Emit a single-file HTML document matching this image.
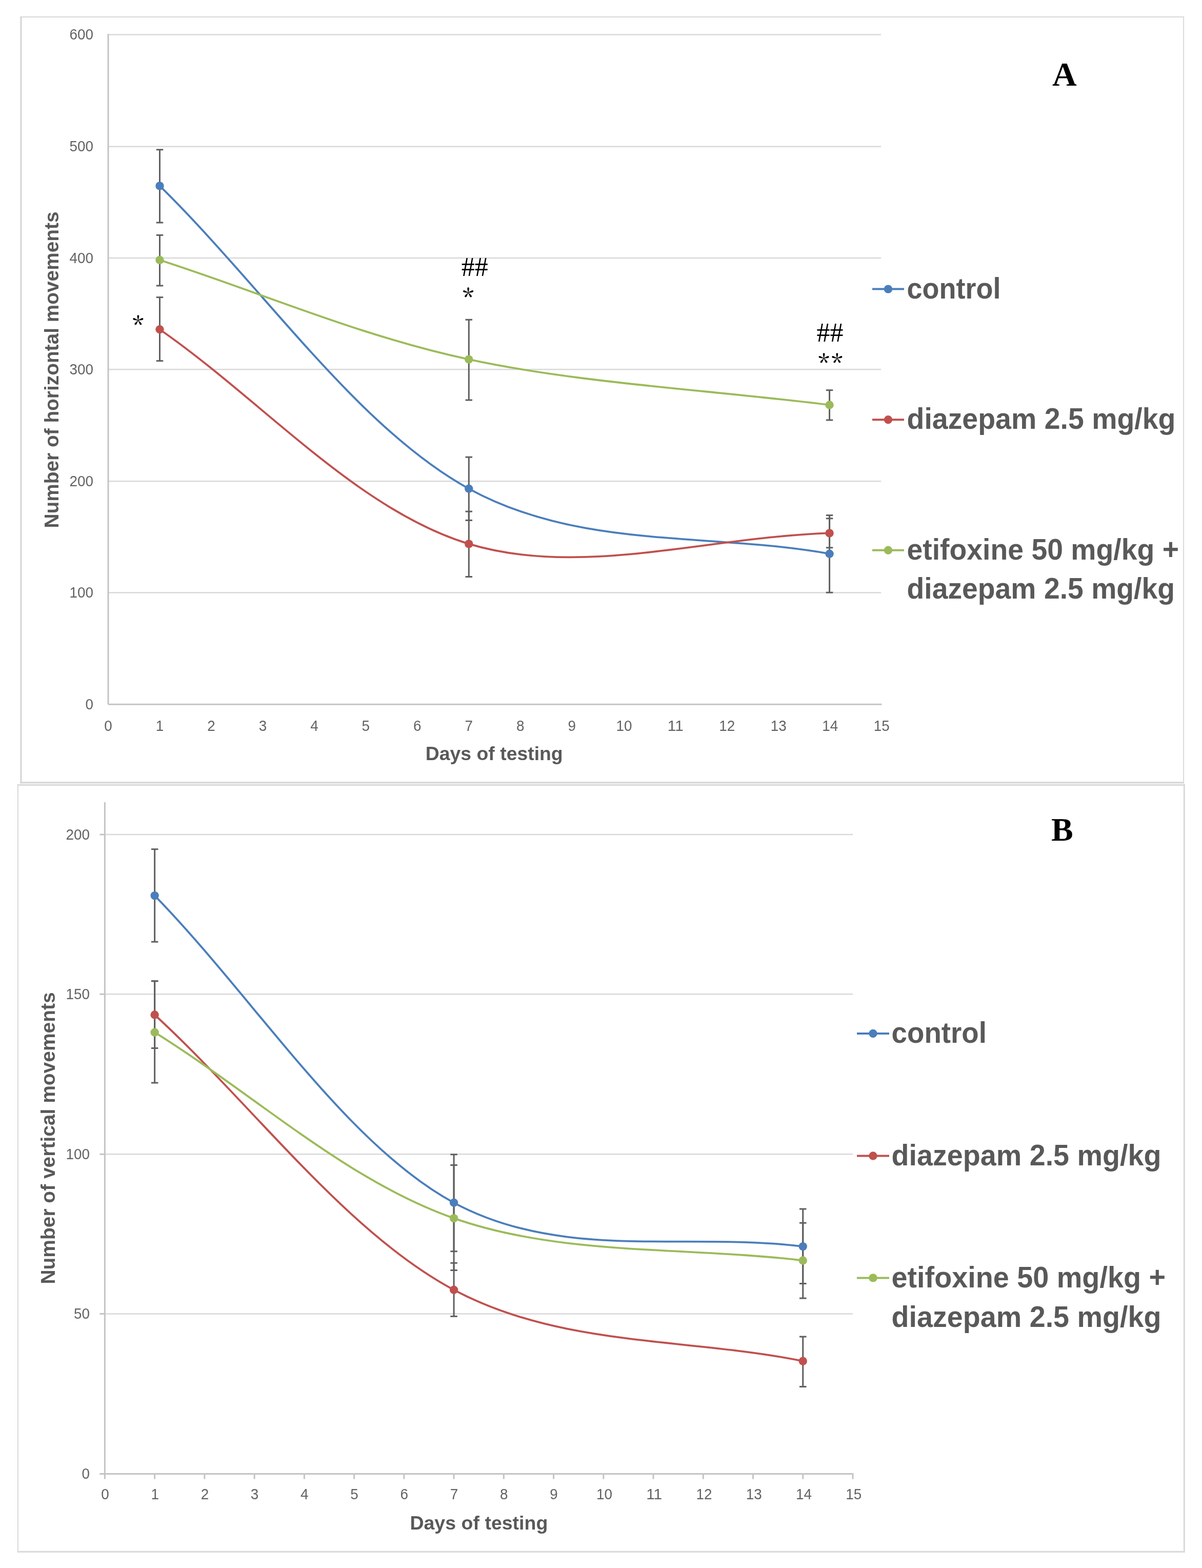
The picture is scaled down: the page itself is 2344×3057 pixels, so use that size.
<!DOCTYPE html>
<html><head><meta charset="utf-8"><title>Horizontal and vertical movements</title>
<style>html,body{margin:0;padding:0;background:#fff;}svg{display:block;}</style></head><body>
<svg width="2344" height="3057" viewBox="0 0 2344 3057">
<rect x="0" y="0" width="2344" height="3057" fill="#fff"/>
<g fill="#d9d9d9">
<rect x="39.25" y="32" width="2269.85" height="2"/>
<rect x="39.25" y="1524.05" width="2269.85" height="3.5"/>
<rect x="39.25" y="32" width="3.5" height="1495.55"/>
<rect x="2307.1" y="32" width="2" height="1495.55"/>
</g>
<line x1="211" y1="1155.6" x2="1718.05" y2="1155.6" stroke="#d9d9d9" stroke-width="2.5"/>
<line x1="211" y1="938.3" x2="1718.05" y2="938.3" stroke="#d9d9d9" stroke-width="2.5"/>
<line x1="211" y1="720.2" x2="1718.05" y2="720.2" stroke="#d9d9d9" stroke-width="2.5"/>
<line x1="211" y1="503" x2="1718.05" y2="503" stroke="#d9d9d9" stroke-width="2.5"/>
<line x1="211" y1="285.8" x2="1718.05" y2="285.8" stroke="#d9d9d9" stroke-width="2.5"/>
<line x1="211" y1="67.4" x2="1718.05" y2="67.4" stroke="#d9d9d9" stroke-width="2.5"/>
<line x1="211" y1="66.2" x2="211" y2="1373.3" stroke="#c4c4c4" stroke-width="3"/>
<line x1="211" y1="1373.3" x2="1719.55" y2="1373.3" stroke="#c4c4c4" stroke-width="3"/>
<text x="182" y="1382.8" text-anchor="end" font-family="'Liberation Sans', Arial, sans-serif" font-size="29" fill="#636363" textLength="15.5" lengthAdjust="spacingAndGlyphs">0</text>
<text x="182" y="1165.1" text-anchor="end" font-family="'Liberation Sans', Arial, sans-serif" font-size="29" fill="#636363" textLength="46.5" lengthAdjust="spacingAndGlyphs">100</text>
<text x="182" y="947.8" text-anchor="end" font-family="'Liberation Sans', Arial, sans-serif" font-size="29" fill="#636363" textLength="46.5" lengthAdjust="spacingAndGlyphs">200</text>
<text x="182" y="729.7" text-anchor="end" font-family="'Liberation Sans', Arial, sans-serif" font-size="29" fill="#636363" textLength="46.5" lengthAdjust="spacingAndGlyphs">300</text>
<text x="182" y="512.5" text-anchor="end" font-family="'Liberation Sans', Arial, sans-serif" font-size="29" fill="#636363" textLength="46.5" lengthAdjust="spacingAndGlyphs">400</text>
<text x="182" y="295.3" text-anchor="end" font-family="'Liberation Sans', Arial, sans-serif" font-size="29" fill="#636363" textLength="46.5" lengthAdjust="spacingAndGlyphs">500</text>
<text x="182" y="76.9" text-anchor="end" font-family="'Liberation Sans', Arial, sans-serif" font-size="29" fill="#636363" textLength="46.5" lengthAdjust="spacingAndGlyphs">600</text>
<text x="211" y="1425" text-anchor="middle" font-family="'Liberation Sans', Arial, sans-serif" font-size="29" fill="#636363" textLength="15.5" lengthAdjust="spacingAndGlyphs">0</text>
<text x="311.47" y="1425" text-anchor="middle" font-family="'Liberation Sans', Arial, sans-serif" font-size="29" fill="#636363" textLength="15.5" lengthAdjust="spacingAndGlyphs">1</text>
<text x="411.94" y="1425" text-anchor="middle" font-family="'Liberation Sans', Arial, sans-serif" font-size="29" fill="#636363" textLength="15.5" lengthAdjust="spacingAndGlyphs">2</text>
<text x="512.41" y="1425" text-anchor="middle" font-family="'Liberation Sans', Arial, sans-serif" font-size="29" fill="#636363" textLength="15.5" lengthAdjust="spacingAndGlyphs">3</text>
<text x="612.88" y="1425" text-anchor="middle" font-family="'Liberation Sans', Arial, sans-serif" font-size="29" fill="#636363" textLength="15.5" lengthAdjust="spacingAndGlyphs">4</text>
<text x="713.35" y="1425" text-anchor="middle" font-family="'Liberation Sans', Arial, sans-serif" font-size="29" fill="#636363" textLength="15.5" lengthAdjust="spacingAndGlyphs">5</text>
<text x="813.82" y="1425" text-anchor="middle" font-family="'Liberation Sans', Arial, sans-serif" font-size="29" fill="#636363" textLength="15.5" lengthAdjust="spacingAndGlyphs">6</text>
<text x="914.29" y="1425" text-anchor="middle" font-family="'Liberation Sans', Arial, sans-serif" font-size="29" fill="#636363" textLength="15.5" lengthAdjust="spacingAndGlyphs">7</text>
<text x="1014.76" y="1425" text-anchor="middle" font-family="'Liberation Sans', Arial, sans-serif" font-size="29" fill="#636363" textLength="15.5" lengthAdjust="spacingAndGlyphs">8</text>
<text x="1115.23" y="1425" text-anchor="middle" font-family="'Liberation Sans', Arial, sans-serif" font-size="29" fill="#636363" textLength="15.5" lengthAdjust="spacingAndGlyphs">9</text>
<text x="1216.9" y="1425" text-anchor="middle" font-family="'Liberation Sans', Arial, sans-serif" font-size="29" fill="#636363" textLength="31" lengthAdjust="spacingAndGlyphs">10</text>
<text x="1317.37" y="1425" text-anchor="middle" font-family="'Liberation Sans', Arial, sans-serif" font-size="29" fill="#636363" textLength="31" lengthAdjust="spacingAndGlyphs">11</text>
<text x="1417.84" y="1425" text-anchor="middle" font-family="'Liberation Sans', Arial, sans-serif" font-size="29" fill="#636363" textLength="31" lengthAdjust="spacingAndGlyphs">12</text>
<text x="1518.31" y="1425" text-anchor="middle" font-family="'Liberation Sans', Arial, sans-serif" font-size="29" fill="#636363" textLength="31" lengthAdjust="spacingAndGlyphs">13</text>
<text x="1618.78" y="1425" text-anchor="middle" font-family="'Liberation Sans', Arial, sans-serif" font-size="29" fill="#636363" textLength="31" lengthAdjust="spacingAndGlyphs">14</text>
<text x="1719.25" y="1425" text-anchor="middle" font-family="'Liberation Sans', Arial, sans-serif" font-size="29" fill="#636363" textLength="31" lengthAdjust="spacingAndGlyphs">15</text>
<text transform="translate(114,1029.6) rotate(-90)" x="0" y="0" font-family="'Liberation Sans', Arial, sans-serif" font-weight="bold" font-size="38.5" fill="#595959" textLength="617.2" lengthAdjust="spacingAndGlyphs">Number of horizontal movements</text>
<text x="829.8" y="1482.3" font-family="'Liberation Sans', Arial, sans-serif" font-weight="bold" font-size="36" fill="#595959" textLength="267.9" lengthAdjust="spacingAndGlyphs">Days of testing</text>
<line x1="311.47" y1="291.8" x2="311.47" y2="434" stroke="#5f5f5f" stroke-width="3"/>
<line x1="304.72" y1="291.8" x2="318.22" y2="291.8" stroke="#5f5f5f" stroke-width="3"/>
<line x1="304.72" y1="434" x2="318.22" y2="434" stroke="#5f5f5f" stroke-width="3"/>
<line x1="914.29" y1="891.2" x2="914.29" y2="1014.4" stroke="#5f5f5f" stroke-width="3"/>
<line x1="907.54" y1="891.2" x2="921.04" y2="891.2" stroke="#5f5f5f" stroke-width="3"/>
<line x1="907.54" y1="1014.4" x2="921.04" y2="1014.4" stroke="#5f5f5f" stroke-width="3"/>
<line x1="1617.58" y1="1004.6" x2="1617.58" y2="1155.2" stroke="#5f5f5f" stroke-width="3"/>
<line x1="1610.83" y1="1004.6" x2="1624.33" y2="1004.6" stroke="#5f5f5f" stroke-width="3"/>
<line x1="1610.83" y1="1155.2" x2="1624.33" y2="1155.2" stroke="#5f5f5f" stroke-width="3"/>
<line x1="311.47" y1="579.6" x2="311.47" y2="703.6" stroke="#5f5f5f" stroke-width="3"/>
<line x1="304.72" y1="579.6" x2="318.22" y2="579.6" stroke="#5f5f5f" stroke-width="3"/>
<line x1="304.72" y1="703.6" x2="318.22" y2="703.6" stroke="#5f5f5f" stroke-width="3"/>
<line x1="914.29" y1="997.2" x2="914.29" y2="1124.5" stroke="#5f5f5f" stroke-width="3"/>
<line x1="907.54" y1="997.2" x2="921.04" y2="997.2" stroke="#5f5f5f" stroke-width="3"/>
<line x1="907.54" y1="1124.5" x2="921.04" y2="1124.5" stroke="#5f5f5f" stroke-width="3"/>
<line x1="1617.58" y1="1010.8" x2="1617.58" y2="1067.8" stroke="#5f5f5f" stroke-width="3"/>
<line x1="1610.83" y1="1010.8" x2="1624.33" y2="1010.8" stroke="#5f5f5f" stroke-width="3"/>
<line x1="1610.83" y1="1067.8" x2="1624.33" y2="1067.8" stroke="#5f5f5f" stroke-width="3"/>
<line x1="311.47" y1="458.4" x2="311.47" y2="557" stroke="#5f5f5f" stroke-width="3"/>
<line x1="304.72" y1="458.4" x2="318.22" y2="458.4" stroke="#5f5f5f" stroke-width="3"/>
<line x1="304.72" y1="557" x2="318.22" y2="557" stroke="#5f5f5f" stroke-width="3"/>
<line x1="914.29" y1="623.3" x2="914.29" y2="780" stroke="#5f5f5f" stroke-width="3"/>
<line x1="907.54" y1="623.3" x2="921.04" y2="623.3" stroke="#5f5f5f" stroke-width="3"/>
<line x1="907.54" y1="780" x2="921.04" y2="780" stroke="#5f5f5f" stroke-width="3"/>
<line x1="1617.58" y1="760.7" x2="1617.58" y2="819" stroke="#5f5f5f" stroke-width="3"/>
<line x1="1610.83" y1="760.7" x2="1624.33" y2="760.7" stroke="#5f5f5f" stroke-width="3"/>
<line x1="1610.83" y1="819" x2="1624.33" y2="819" stroke="#5f5f5f" stroke-width="3"/>
<path d="M311.47,362.4 C512.41,559.2 696.61,833.25 914.29,952.8 C1131.97,1072.35 1383.15,1037.4 1617.58,1079.7" fill="none" stroke="#4a7ebb" stroke-width="3.8" stroke-linecap="round"/>
<path d="M311.47,642.2 C512.41,781.6 696.61,994.2 914.29,1060.4 C1131.97,1126.6 1383.15,1046.4 1617.58,1039.4" fill="none" stroke="#c0504d" stroke-width="3.8" stroke-linecap="round"/>
<path d="M311.47,507 C512.41,571.53 696.61,653.52 914.29,700.6 C1131.97,747.68 1383.15,759.87 1617.58,789.5" fill="none" stroke="#9bbb59" stroke-width="3.8" stroke-linecap="round"/>
<circle cx="311.47" cy="362.4" r="8.2" fill="#4a7ebb"/>
<circle cx="914.29" cy="952.8" r="8.2" fill="#4a7ebb"/>
<circle cx="1617.58" cy="1079.7" r="8.2" fill="#4a7ebb"/>
<circle cx="311.47" cy="642.2" r="8.2" fill="#c0504d"/>
<circle cx="914.29" cy="1060.4" r="8.2" fill="#c0504d"/>
<circle cx="1617.58" cy="1039.4" r="8.2" fill="#c0504d"/>
<circle cx="311.47" cy="507" r="8.2" fill="#9bbb59"/>
<circle cx="914.29" cy="700.6" r="8.2" fill="#9bbb59"/>
<circle cx="1617.58" cy="789.5" r="8.2" fill="#9bbb59"/>
<line x1="1701" y1="563.6" x2="1763" y2="563.6" stroke="#4a7ebb" stroke-width="4"/>
<circle cx="1732" cy="563.6" r="8.2" fill="#4a7ebb"/>
<text x="1768.5" y="582" font-family="'Liberation Sans', Arial, sans-serif" font-weight="bold" font-size="56.5" fill="#595959" textLength="183" lengthAdjust="spacingAndGlyphs">control</text>
<line x1="1701" y1="818.2" x2="1763" y2="818.2" stroke="#c0504d" stroke-width="4"/>
<circle cx="1732" cy="818.2" r="8.2" fill="#c0504d"/>
<text x="1768.5" y="836" font-family="'Liberation Sans', Arial, sans-serif" font-weight="bold" font-size="56.5" fill="#595959" textLength="524" lengthAdjust="spacingAndGlyphs">diazepam 2.5 mg/kg</text>
<line x1="1701" y1="1072.7" x2="1763" y2="1072.7" stroke="#9bbb59" stroke-width="4"/>
<circle cx="1732" cy="1072.7" r="8.2" fill="#9bbb59"/>
<text x="1768.5" y="1090.6" font-family="'Liberation Sans', Arial, sans-serif" font-weight="bold" font-size="56.5" fill="#595959" textLength="530.5" lengthAdjust="spacingAndGlyphs">etifoxine 50 mg/kg +</text>
<text x="1768.5" y="1167" font-family="'Liberation Sans', Arial, sans-serif" font-weight="bold" font-size="56.5" fill="#595959" textLength="522.5" lengthAdjust="spacingAndGlyphs">diazepam 2.5 mg/kg</text>
<text x="2052" y="167.3" font-family="'Liberation Serif', 'Times New Roman', serif" font-weight="bold" font-size="66" fill="#000">A</text>
<text x="925.7" y="537.5" text-anchor="middle" font-family="'Liberation Serif', 'Times New Roman', serif" font-size="52" fill="#000">##</text>
<text x="1618.6" y="665.7" text-anchor="middle" font-family="'Liberation Serif', 'Times New Roman', serif" font-size="52" fill="#000">##</text>
<text x="258.4" y="651.3" font-family="'Noto Serif CJK SC', 'Liberation Serif', serif" font-weight="600" font-size="45" fill="#000">*</text>
<text x="902.3" y="597.1" font-family="'Noto Serif CJK SC', 'Liberation Serif', serif" font-weight="600" font-size="45" fill="#000">*</text>
<text x="1595.8 1621.5" y="725.3" font-family="'Noto Serif CJK SC', 'Liberation Serif', serif" font-weight="600" font-size="45" fill="#000">**</text>
<g fill="#d9d9d9">
<rect x="33.9" y="1528.9" width="2276.9" height="3"/>
<rect x="33.9" y="3023.8" width="2276.9" height="3"/>
<rect x="33.9" y="1528.9" width="2" height="1497.9"/>
<rect x="2307.8" y="1528.9" width="3" height="1497.9"/>
</g>
<line x1="204.4" y1="2561.4" x2="1663" y2="2561.4" stroke="#d9d9d9" stroke-width="2.5"/>
<line x1="204.4" y1="2250.3" x2="1663" y2="2250.3" stroke="#d9d9d9" stroke-width="2.5"/>
<line x1="204.4" y1="1938.3" x2="1663" y2="1938.3" stroke="#d9d9d9" stroke-width="2.5"/>
<line x1="204.4" y1="1627.1" x2="1663" y2="1627.1" stroke="#d9d9d9" stroke-width="2.5"/>
<line x1="204.4" y1="1564" x2="204.4" y2="2883.6" stroke="#c4c4c4" stroke-width="3"/>
<line x1="194.4" y1="2873.6" x2="1664.5" y2="2873.6" stroke="#c4c4c4" stroke-width="3"/>
<line x1="194.4" y1="2561.4" x2="204.4" y2="2561.4" stroke="#c4c4c4" stroke-width="3"/>
<line x1="194.4" y1="2250.3" x2="204.4" y2="2250.3" stroke="#c4c4c4" stroke-width="3"/>
<line x1="194.4" y1="1938.3" x2="204.4" y2="1938.3" stroke="#c4c4c4" stroke-width="3"/>
<line x1="194.4" y1="1627.1" x2="204.4" y2="1627.1" stroke="#c4c4c4" stroke-width="3"/>
<line x1="194.4" y1="2873.6" x2="204.4" y2="2873.6" stroke="#c4c4c4" stroke-width="3"/>
<line x1="301.64" y1="2873.6" x2="301.64" y2="2883.6" stroke="#c4c4c4" stroke-width="3"/>
<line x1="398.88" y1="2873.6" x2="398.88" y2="2883.6" stroke="#c4c4c4" stroke-width="3"/>
<line x1="496.12" y1="2873.6" x2="496.12" y2="2883.6" stroke="#c4c4c4" stroke-width="3"/>
<line x1="593.36" y1="2873.6" x2="593.36" y2="2883.6" stroke="#c4c4c4" stroke-width="3"/>
<line x1="690.6" y1="2873.6" x2="690.6" y2="2883.6" stroke="#c4c4c4" stroke-width="3"/>
<line x1="787.84" y1="2873.6" x2="787.84" y2="2883.6" stroke="#c4c4c4" stroke-width="3"/>
<line x1="885.08" y1="2873.6" x2="885.08" y2="2883.6" stroke="#c4c4c4" stroke-width="3"/>
<line x1="982.32" y1="2873.6" x2="982.32" y2="2883.6" stroke="#c4c4c4" stroke-width="3"/>
<line x1="1079.56" y1="2873.6" x2="1079.56" y2="2883.6" stroke="#c4c4c4" stroke-width="3"/>
<line x1="1176.8" y1="2873.6" x2="1176.8" y2="2883.6" stroke="#c4c4c4" stroke-width="3"/>
<line x1="1274.04" y1="2873.6" x2="1274.04" y2="2883.6" stroke="#c4c4c4" stroke-width="3"/>
<line x1="1371.28" y1="2873.6" x2="1371.28" y2="2883.6" stroke="#c4c4c4" stroke-width="3"/>
<line x1="1468.52" y1="2873.6" x2="1468.52" y2="2883.6" stroke="#c4c4c4" stroke-width="3"/>
<line x1="1565.76" y1="2873.6" x2="1565.76" y2="2883.6" stroke="#c4c4c4" stroke-width="3"/>
<line x1="1663" y1="2873.6" x2="1663" y2="2883.6" stroke="#c4c4c4" stroke-width="3"/>
<text x="175" y="2883.1" text-anchor="end" font-family="'Liberation Sans', Arial, sans-serif" font-size="29" fill="#636363" textLength="15.5" lengthAdjust="spacingAndGlyphs">0</text>
<text x="175" y="2570.9" text-anchor="end" font-family="'Liberation Sans', Arial, sans-serif" font-size="29" fill="#636363" textLength="31" lengthAdjust="spacingAndGlyphs">50</text>
<text x="175" y="2259.8" text-anchor="end" font-family="'Liberation Sans', Arial, sans-serif" font-size="29" fill="#636363" textLength="46.5" lengthAdjust="spacingAndGlyphs">100</text>
<text x="175" y="1947.8" text-anchor="end" font-family="'Liberation Sans', Arial, sans-serif" font-size="29" fill="#636363" textLength="46.5" lengthAdjust="spacingAndGlyphs">150</text>
<text x="175" y="1636.6" text-anchor="end" font-family="'Liberation Sans', Arial, sans-serif" font-size="29" fill="#636363" textLength="46.5" lengthAdjust="spacingAndGlyphs">200</text>
<text x="204.9" y="2923" text-anchor="middle" font-family="'Liberation Sans', Arial, sans-serif" font-size="29" fill="#636363" textLength="15.5" lengthAdjust="spacingAndGlyphs">0</text>
<text x="302.14" y="2923" text-anchor="middle" font-family="'Liberation Sans', Arial, sans-serif" font-size="29" fill="#636363" textLength="15.5" lengthAdjust="spacingAndGlyphs">1</text>
<text x="399.38" y="2923" text-anchor="middle" font-family="'Liberation Sans', Arial, sans-serif" font-size="29" fill="#636363" textLength="15.5" lengthAdjust="spacingAndGlyphs">2</text>
<text x="496.62" y="2923" text-anchor="middle" font-family="'Liberation Sans', Arial, sans-serif" font-size="29" fill="#636363" textLength="15.5" lengthAdjust="spacingAndGlyphs">3</text>
<text x="593.86" y="2923" text-anchor="middle" font-family="'Liberation Sans', Arial, sans-serif" font-size="29" fill="#636363" textLength="15.5" lengthAdjust="spacingAndGlyphs">4</text>
<text x="691.1" y="2923" text-anchor="middle" font-family="'Liberation Sans', Arial, sans-serif" font-size="29" fill="#636363" textLength="15.5" lengthAdjust="spacingAndGlyphs">5</text>
<text x="788.34" y="2923" text-anchor="middle" font-family="'Liberation Sans', Arial, sans-serif" font-size="29" fill="#636363" textLength="15.5" lengthAdjust="spacingAndGlyphs">6</text>
<text x="885.58" y="2923" text-anchor="middle" font-family="'Liberation Sans', Arial, sans-serif" font-size="29" fill="#636363" textLength="15.5" lengthAdjust="spacingAndGlyphs">7</text>
<text x="982.82" y="2923" text-anchor="middle" font-family="'Liberation Sans', Arial, sans-serif" font-size="29" fill="#636363" textLength="15.5" lengthAdjust="spacingAndGlyphs">8</text>
<text x="1080.06" y="2923" text-anchor="middle" font-family="'Liberation Sans', Arial, sans-serif" font-size="29" fill="#636363" textLength="15.5" lengthAdjust="spacingAndGlyphs">9</text>
<text x="1178.5" y="2923" text-anchor="middle" font-family="'Liberation Sans', Arial, sans-serif" font-size="29" fill="#636363" textLength="31" lengthAdjust="spacingAndGlyphs">10</text>
<text x="1275.74" y="2923" text-anchor="middle" font-family="'Liberation Sans', Arial, sans-serif" font-size="29" fill="#636363" textLength="31" lengthAdjust="spacingAndGlyphs">11</text>
<text x="1372.98" y="2923" text-anchor="middle" font-family="'Liberation Sans', Arial, sans-serif" font-size="29" fill="#636363" textLength="31" lengthAdjust="spacingAndGlyphs">12</text>
<text x="1470.22" y="2923" text-anchor="middle" font-family="'Liberation Sans', Arial, sans-serif" font-size="29" fill="#636363" textLength="31" lengthAdjust="spacingAndGlyphs">13</text>
<text x="1567.46" y="2923" text-anchor="middle" font-family="'Liberation Sans', Arial, sans-serif" font-size="29" fill="#636363" textLength="31" lengthAdjust="spacingAndGlyphs">14</text>
<text x="1664.7" y="2923" text-anchor="middle" font-family="'Liberation Sans', Arial, sans-serif" font-size="29" fill="#636363" textLength="31" lengthAdjust="spacingAndGlyphs">15</text>
<text transform="translate(107,2503.6) rotate(-90)" x="0" y="0" font-family="'Liberation Sans', Arial, sans-serif" font-weight="bold" font-size="38.5" fill="#595959" textLength="569.2" lengthAdjust="spacingAndGlyphs">Number of vertical movements</text>
<text x="799.4" y="2982.1" font-family="'Liberation Sans', Arial, sans-serif" font-weight="bold" font-size="36" fill="#595959" textLength="269" lengthAdjust="spacingAndGlyphs">Days of testing</text>
<line x1="301.64" y1="1655.6" x2="301.64" y2="1836.2" stroke="#5f5f5f" stroke-width="3"/>
<line x1="294.89" y1="1655.6" x2="308.39" y2="1655.6" stroke="#5f5f5f" stroke-width="3"/>
<line x1="294.89" y1="1836.2" x2="308.39" y2="1836.2" stroke="#5f5f5f" stroke-width="3"/>
<line x1="885.08" y1="2250.8" x2="885.08" y2="2439.7" stroke="#5f5f5f" stroke-width="3"/>
<line x1="878.33" y1="2250.8" x2="891.83" y2="2250.8" stroke="#5f5f5f" stroke-width="3"/>
<line x1="878.33" y1="2439.7" x2="891.83" y2="2439.7" stroke="#5f5f5f" stroke-width="3"/>
<line x1="1565.76" y1="2357" x2="1565.76" y2="2502.5" stroke="#5f5f5f" stroke-width="3"/>
<line x1="1559.01" y1="2357" x2="1572.51" y2="2357" stroke="#5f5f5f" stroke-width="3"/>
<line x1="1559.01" y1="2502.5" x2="1572.51" y2="2502.5" stroke="#5f5f5f" stroke-width="3"/>
<line x1="301.64" y1="1912.7" x2="301.64" y2="2043.5" stroke="#5f5f5f" stroke-width="3"/>
<line x1="294.89" y1="1912.7" x2="308.39" y2="1912.7" stroke="#5f5f5f" stroke-width="3"/>
<line x1="294.89" y1="2043.5" x2="308.39" y2="2043.5" stroke="#5f5f5f" stroke-width="3"/>
<line x1="885.08" y1="2462.3" x2="885.08" y2="2566.4" stroke="#5f5f5f" stroke-width="3"/>
<line x1="878.33" y1="2462.3" x2="891.83" y2="2462.3" stroke="#5f5f5f" stroke-width="3"/>
<line x1="878.33" y1="2566.4" x2="891.83" y2="2566.4" stroke="#5f5f5f" stroke-width="3"/>
<line x1="1565.76" y1="2606" x2="1565.76" y2="2703.5" stroke="#5f5f5f" stroke-width="3"/>
<line x1="1559.01" y1="2606" x2="1572.51" y2="2606" stroke="#5f5f5f" stroke-width="3"/>
<line x1="1559.01" y1="2703.5" x2="1572.51" y2="2703.5" stroke="#5f5f5f" stroke-width="3"/>
<line x1="301.64" y1="1912.7" x2="301.64" y2="2111.1" stroke="#5f5f5f" stroke-width="3"/>
<line x1="294.89" y1="1912.7" x2="308.39" y2="1912.7" stroke="#5f5f5f" stroke-width="3"/>
<line x1="294.89" y1="2111.1" x2="308.39" y2="2111.1" stroke="#5f5f5f" stroke-width="3"/>
<line x1="885.08" y1="2271.5" x2="885.08" y2="2476.5" stroke="#5f5f5f" stroke-width="3"/>
<line x1="878.33" y1="2271.5" x2="891.83" y2="2271.5" stroke="#5f5f5f" stroke-width="3"/>
<line x1="878.33" y1="2476.5" x2="891.83" y2="2476.5" stroke="#5f5f5f" stroke-width="3"/>
<line x1="1565.76" y1="2384.2" x2="1565.76" y2="2531.1" stroke="#5f5f5f" stroke-width="3"/>
<line x1="1559.01" y1="2384.2" x2="1572.51" y2="2384.2" stroke="#5f5f5f" stroke-width="3"/>
<line x1="1559.01" y1="2531.1" x2="1572.51" y2="2531.1" stroke="#5f5f5f" stroke-width="3"/>
<path d="M301.64,1746.1 C496.12,1945.67 674.39,2230.8 885.08,2344.8 C1095.77,2458.8 1338.87,2401.67 1565.76,2430.1" fill="none" stroke="#4a7ebb" stroke-width="3.8" stroke-linecap="round"/>
<path d="M301.64,1978.5 C496.12,2157.23 674.39,2402.18 885.08,2514.7 C1095.77,2627.22 1338.87,2607.3 1565.76,2653.6" fill="none" stroke="#c0504d" stroke-width="3.8" stroke-linecap="round"/>
<path d="M301.64,2012.7 C496.12,2133.5 674.39,2300.97 885.08,2375.1 C1095.77,2449.23 1338.87,2430.03 1565.76,2457.5" fill="none" stroke="#9bbb59" stroke-width="3.8" stroke-linecap="round"/>
<circle cx="301.64" cy="1746.1" r="8.2" fill="#4a7ebb"/>
<circle cx="885.08" cy="2344.8" r="8.2" fill="#4a7ebb"/>
<circle cx="1565.76" cy="2430.1" r="8.2" fill="#4a7ebb"/>
<circle cx="301.64" cy="1978.5" r="8.2" fill="#c0504d"/>
<circle cx="885.08" cy="2514.7" r="8.2" fill="#c0504d"/>
<circle cx="1565.76" cy="2653.6" r="8.2" fill="#c0504d"/>
<circle cx="301.64" cy="2012.7" r="8.2" fill="#9bbb59"/>
<circle cx="885.08" cy="2375.1" r="8.2" fill="#9bbb59"/>
<circle cx="1565.76" cy="2457.5" r="8.2" fill="#9bbb59"/>
<line x1="1671" y1="2015" x2="1734" y2="2015" stroke="#4a7ebb" stroke-width="4"/>
<circle cx="1702.5" cy="2015" r="8.2" fill="#4a7ebb"/>
<text x="1738.5" y="2033.4" font-family="'Liberation Sans', Arial, sans-serif" font-weight="bold" font-size="56.5" fill="#595959" textLength="185.5" lengthAdjust="spacingAndGlyphs">control</text>
<line x1="1671" y1="2253.5" x2="1734" y2="2253.5" stroke="#c0504d" stroke-width="4"/>
<circle cx="1702.5" cy="2253.5" r="8.2" fill="#c0504d"/>
<text x="1738.5" y="2271.7" font-family="'Liberation Sans', Arial, sans-serif" font-weight="bold" font-size="56.5" fill="#595959" textLength="526" lengthAdjust="spacingAndGlyphs">diazepam 2.5 mg/kg</text>
<line x1="1671" y1="2491.4" x2="1734" y2="2491.4" stroke="#9bbb59" stroke-width="4"/>
<circle cx="1702.5" cy="2491.4" r="8.2" fill="#9bbb59"/>
<text x="1738.5" y="2509.6" font-family="'Liberation Sans', Arial, sans-serif" font-weight="bold" font-size="56.5" fill="#595959" textLength="534.5" lengthAdjust="spacingAndGlyphs">etifoxine 50 mg/kg +</text>
<text x="1738.5" y="2586.5" font-family="'Liberation Sans', Arial, sans-serif" font-weight="bold" font-size="56.5" fill="#595959" textLength="526" lengthAdjust="spacingAndGlyphs">diazepam 2.5 mg/kg</text>
<text x="2050" y="1638.6" font-family="'Liberation Serif', 'Times New Roman', serif" font-weight="bold" font-size="64" fill="#000">B</text>
</svg></body></html>
